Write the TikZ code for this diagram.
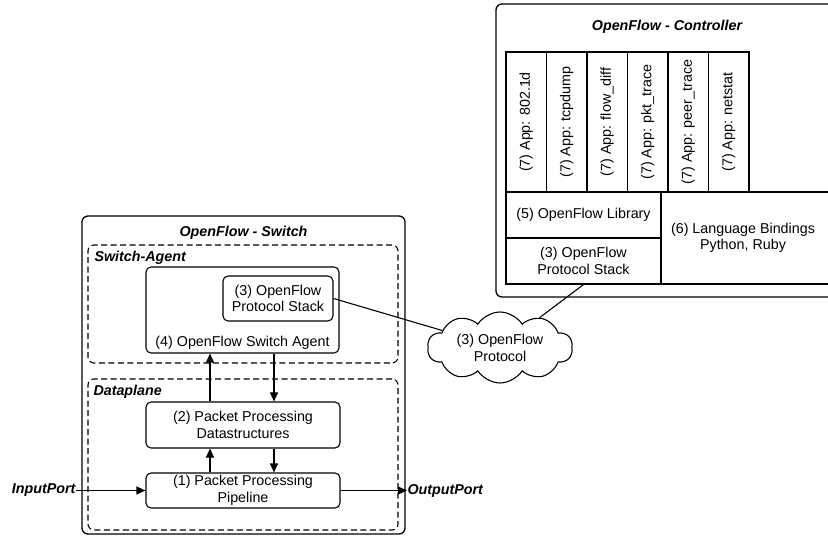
\documentclass[tikz,border=0pt]{standalone}
\usepackage{fontspec}
\setmainfont{Liberation Sans}
\usetikzlibrary{shapes.symbols,arrows.meta}

\begin{document}
\begin{tikzpicture}[x=1pt,y=-1pt,line width=1pt,
	every node/.style={font=\fontsize{14.3}{16.5}\selectfont,align=center,inner sep=0pt},
	heading/.style={font=\fontsize{14.3}{16.5}\selectfont\bfseries\itshape},
	frame/.style={draw,rounded corners=6pt,line width=1.3pt},
	region/.style={draw,rounded corners=6pt,line width=1.1pt,dash pattern=on 6pt off 3.5pt},
	block/.style={draw,rounded corners=5pt,line width=1.1pt},
	cell/.style={draw,line width=1.1pt},
	app/.style={draw,line width=1.1pt,minimum width=40.5pt,minimum height=140pt},
	flow/.style={line width=1.1pt,-{Triangle[length=9pt,width=8pt]}}]
\clip (0,0) rectangle (828,537);
\path (667,150.5) node[frame,minimum width=342pt,minimum height=293pt] (ctrl) {}
		(667,27) node[heading] (ctrltitle) {OpenFlow - Controller}
		(526.25,122) node[app] (app1) {\rotatebox{90}{(7) App: 802.1d}}
		(566.75,122) node[app] (app2) {\rotatebox{90}{(7) App: tcpdump}}
		(607.25,122) node[app] (app3) {\rotatebox{90}{(7) App: flow\_diff}}
		(647.75,122) node[app] (app4) {\rotatebox{90}{(7) App: pkt\_trace}}
		(688.25,122) node[app] (app5) {\rotatebox{90}{(7) App: peer\_trace}}
		(728.75,122) node[app] (app6) {\rotatebox{90}{(7) App: netstat}}
		(583.5,215) node[cell,minimum width=155pt,minimum height=46pt] (lib) {(5) OpenFlow Library}
		(583.5,261) node[cell,minimum width=155pt,minimum height=46pt] (cstack) {(3) OpenFlow\\Protocol Stack}
		(748,238) node[cell,minimum width=174pt,minimum height=92pt] (bind) {\hspace*{-10pt}(6) Language Bindings\\\hspace*{-10pt}Python, Ruby}
		(243.5,375) node[frame,minimum width=323pt,minimum height=318pt] (switch) {}
		(243.5,233) node[heading] (switchtitle) {OpenFlow - Switch}
		(243,304) node[region,minimum width=310pt,minimum height=118pt] (agentarea) {}
		(94,258) node[heading,anchor=west] {Switch-Agent}
		(243,454.5) node[region,minimum width=310pt,minimum height=151pt] (dataarea) {}
		(93,392) node[heading,anchor=west] {Dataplane}
		(242.5,310) node[block,minimum width=193pt,minimum height=86pt] (agent) {}
		(242.5,347) node[anchor=base] {(4) OpenFlow Switch Agent}
		(278,298.5) node[block,minimum width=110pt,minimum height=45pt] (ofstack) {(3) OpenFlow\\Protocol Stack}
		(243,425) node[block,minimum width=194pt,minimum height=46pt] (dstruct) {(2) Packet Processing\\Datastructures}
		(243,490.5) node[block,minimum width=194pt,minimum height=35pt] (pipe) {(1) Packet Processing\\Pipeline}
		(76,490.5) node[heading,anchor=east] (in) {InputPort}
		(407,490.5) node[heading,anchor=west] (out) {OutputPort}
		(500,347.5) node[cloud,draw,line width=1.1pt,cloud puffs=10,cloud puff arc=115,aspect=2,minimum width=145pt,minimum height=71pt] (proto) {}
		(500,348) node {(3) OpenFlow\\Protocol}
		;

\draw[flow] ([xshift=-33pt]node cs:name=dstruct,anchor=north) -- ([xshift=-32.5pt]node cs:name=agent,anchor=south);
\draw[flow] ([xshift=31.5pt]node cs:name=agent,anchor=south) -- ([xshift=31pt]node cs:name=dstruct,anchor=north);
\draw[flow] ([xshift=-33pt]node cs:name=pipe,anchor=north) -- ([xshift=-33pt]node cs:name=dstruct,anchor=south);
\draw[flow] ([xshift=31pt]node cs:name=dstruct,anchor=south) -- ([xshift=31pt]node cs:name=pipe,anchor=north);
\draw[flow] (node cs:name=in) -- (node cs:name=pipe);
\draw[flow] (node cs:name=pipe) -- (node cs:name=out);

\draw[line width=1.1pt] (node cs:name=ofstack,anchor=east) -- ([shift={(-53,-7.5)}]node cs:name=proto);
\draw[line width=1.1pt] (node cs:name=cstack,anchor=south) -- ([shift={(42,-24.5)}]node cs:name=proto);
\end{tikzpicture}
\end{document}
